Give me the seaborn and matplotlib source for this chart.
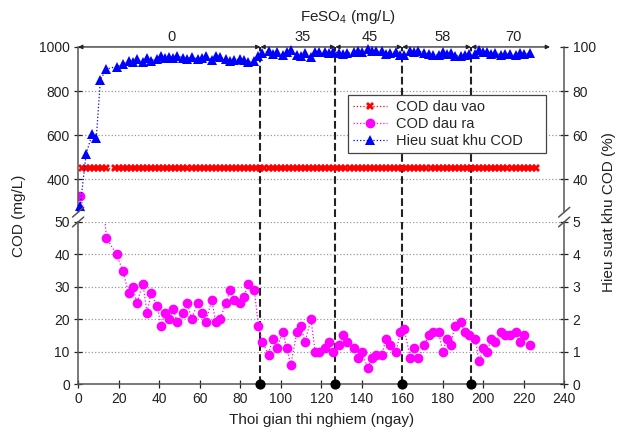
import numpy as np
import pandas as pd
import seaborn as sns
import matplotlib.pyplot as plt
from matplotlib.lines import Line2D

# effluent COD and removal efficiency
days_out = [1, 4, 7, 9, 11, 14, 19, 22, 25, 27, 29, 32, 34, 36, 39, 41, 43, 45, 47, 49,
            52, 54, 56, 59, 61, 63, 66, 68, 70, 73, 75, 77, 80, 82, 84, 87, 89, 91, 94, 96,
            98, 101, 103, 105, 108, 110, 112, 115, 117, 119, 122, 124, 126, 129, 131, 133, 136, 138, 140, 143,
            145, 147, 150, 152, 154, 157, 159, 161, 164, 166, 168, 171, 173, 175, 178, 180, 182, 184, 186, 189,
            191, 193, 196, 198, 200, 202, 204, 206, 209, 211, 213, 216, 218, 220, 223]
cod_out = [325, 216, 176, 185, 67, 45, 40, 35, 28, 30, 25, 31, 22, 28, 24, 18, 22, 20, 23, 19,
           22, 25, 20, 25, 22, 19, 26, 19, 20, 25, 29, 26, 25, 27, 31, 29, 18, 13, 9, 14,
           11, 16, 11, 6, 16, 18, 13, 20, 10, 10, 11, 13, 10, 12, 15, 13, 11, 8, 10, 5,
           8, 9, 9, 14, 12, 10, 16, 17, 8, 11, 8, 12, 15, 16, 16, 10, 14, 12, 18, 19,
           16, 15, 14, 7, 11, 10, 14, 13, 16, 15, 15, 16, 13, 15, 12]
efficiency = [27.6, 51.6, 60.7, 58.9, 85.2, 90.0, 91.1, 92.2, 93.8, 93.3,
              94.4, 93.1, 95.1, 93.8, 94.7, 96.0, 95.1, 95.6, 94.9, 95.8,
              95.1, 94.4, 95.6, 94.4, 95.1, 95.8, 94.2, 95.8, 95.6, 94.4,
              93.6, 94.2, 94.4, 94.0, 93.1, 93.6, 96.0, 97.1, 98.0, 96.9,
              97.6, 96.4, 97.6, 98.7, 96.4, 96.0, 97.1, 95.6, 97.8, 97.8,
              97.6, 97.1, 97.8, 97.3, 96.7, 97.1, 97.6, 98.2, 97.8, 98.9,
              98.2, 98.0, 98.0, 96.9, 97.3, 97.8, 96.4, 96.2, 98.2, 97.6,
              98.2, 97.3, 96.7, 96.4, 96.4, 97.8, 96.9, 97.3, 96.0, 95.8,
              96.4, 96.7, 96.9, 98.4, 97.6, 97.8, 96.9, 97.1, 96.4, 96.7,
              96.7, 96.4, 97.1, 96.7, 97.3]

# influent COD, sampled every 2 days
days_in = list(range(2, 15, 2)) + list(range(18, 227, 2))
cod_in = [450] * len(days_in)

# FeSO4 dosing phases
phase_edges = [0, 90, 127, 160, 194, 233]
phase_dose = ['0', '35', '45', '58', '70']
phase_text_x = [46, 111, 144, 180, 215]
phase_changes = [90, 127, 160, 194]

sns.set_style('ticks')
plt.rcParams['font.family'] = ['Liberation Sans', 'DejaVu Sans']
plt.rcParams['mathtext.fontset'] = 'custom'
plt.rcParams['mathtext.rm'] = 'Liberation Sans'

df_out = pd.DataFrame({'day': days_out, 'cod': cod_out, 'eff': efficiency})
df_in = pd.DataFrame({'day': days_in, 'cod': cod_in})

fig = plt.figure(figsize=(6.2, 4.43), dpi=100)
ax_top = fig.add_axes([0.126, 0.521, 0.784, 0.373])
ax_bot = fig.add_axes([0.126, 0.133, 0.784, 0.366])
ax_top_r = ax_top.twinx()
ax_bot_r = ax_bot.twinx()

red, mag, blue = '#ff0000', '#ff00ff', '#0000ff'
line_kw = dict(linestyle=':', linewidth=0.9, estimator=None, legend=False)

for ax in (ax_top, ax_bot):
    sns.lineplot(data=df_in, x='day', y='cod', ax=ax, color=red, marker='X',
                 markersize=6, markeredgewidth=0, **line_kw)
    sns.lineplot(data=df_out, x='day', y='cod', ax=ax, color=mag, marker='o',
                 markersize=7, markeredgewidth=0, **line_kw)
sns.lineplot(data=df_out, x='day', y='eff', ax=ax_top_r, color=blue, marker='^',
             markersize=7, markeredgewidth=0, clip_on=False, **line_kw)

ax_top.set_ylim(250, 1000)
ax_top_r.set_ylim(25, 100)
ax_bot.set_ylim(0, 50)
ax_bot_r.set_ylim(0, 5)
for ax in (ax_top, ax_bot, ax_top_r, ax_bot_r):
    ax.set_xlim(0, 240)
    ax.set_xlabel('')
    ax.set_ylabel('')

ax_top.set_yticks([400, 600, 800, 1000])
ax_top_r.set_yticks([40, 60, 80, 100])
ax_bot.set_yticks([0, 10, 20, 30, 40, 50])
ax_bot_r.set_yticks([0, 1, 2, 3, 4, 5])
ax_bot.set_xticks(range(0, 241, 20))

for ax in (ax_top, ax_top_r):
    ax.tick_params(axis='x', bottom=False, labelbottom=False, top=False)
for ax in (ax_top, ax_bot, ax_top_r, ax_bot_r):
    ax.tick_params(axis='both', direction='inout', length=6, width=0.9,
                   labelsize=10, colors='#222222', pad=3)
    for s in ax.spines.values():
        s.set_color('#555555')
        s.set_linewidth(1.1)

ax_top.spines[['top', 'bottom', 'right']].set_visible(False)
ax_top_r.spines[['top', 'bottom', 'left']].set_visible(False)
ax_bot.spines[['top', 'right']].set_visible(False)
ax_bot_r.spines[['top', 'left', 'bottom']].set_visible(False)

# dotted horizontal grid
for y in [400, 600, 800]:
    ax_top.axhline(y, color='#9a9a9a', linestyle=':', linewidth=0.9, zorder=0)
for y in [10, 20, 30, 40, 50]:
    ax_bot.axhline(y, color='#9a9a9a', linestyle=':', linewidth=0.9, zorder=0)

# phase boundaries
for x in phase_changes:
    ax_top.axvline(x, ymin=-0.03, ymax=1, color='#222222', linestyle='--',
                   linewidth=1.5, clip_on=False, zorder=1)
    ax_bot.axvline(x, color='#222222', linestyle='--', linewidth=1.5, zorder=1)
ax_bot.scatter(phase_changes, [0] * len(phase_changes), s=40, color='black',
               zorder=5, clip_on=False)

# FeSO4 arrows and doses
for a, b in zip(phase_edges[:-1], phase_edges[1:]):
    ax_top.annotate('', xy=(b, 1000), xytext=(a, 1000), annotation_clip=False,
                    arrowprops=dict(arrowstyle='<|-|>', color='#222222', lw=0.9,
                                    mutation_scale=6, shrinkA=0, shrinkB=0))
for x, t in zip(phase_text_x, phase_dose):
    ax_top.annotate(t, xy=(x, 1000), xytext=(0, 2), textcoords='offset points',
                    ha='center', va='bottom', fontsize=10.5, color='#222222',
                    annotation_clip=False)
fig.text(0.561, 0.962, r'FeSO$_\mathregular{4}$ (mg/L)', ha='center', va='center',
         fontsize=11, color='#222222')

# axis break marks
for xf in (0.126, 0.910):
    for yf in (0.521, 0.499):
        fig.add_artist(Line2D([xf - 0.009, xf + 0.009], [yf - 0.011, yf + 0.011],
                              transform=fig.transFigure, color='#555555', lw=1.1))

fig.text(0.030, 0.512, 'COD (mg/L)', rotation=90, ha='center', va='center',
         fontsize=11, color='#222222')
fig.text(0.983, 0.521, 'Hieu suat khu COD (%)', rotation=90, ha='center', va='center',
         fontsize=11, color='#222222')
fig.text(0.518, 0.052, 'Thoi gian thi nghiem (ngay)', ha='center', va='center',
         fontsize=11, color='#222222')

handles = [
    Line2D([], [], color=red, linestyle=':', marker='X', markersize=6, markeredgewidth=0, lw=0.9),
    Line2D([], [], color=mag, linestyle=':', marker='o', markersize=7, markeredgewidth=0, lw=0.9),
    Line2D([], [], color=blue, linestyle=':', marker='^', markersize=7, markeredgewidth=0, lw=0.9),
]
leg = ax_top_r.legend(handles, ['COD dau vao', 'COD dau ra', 'Hieu suat khu COD'],
                      loc='upper left', bbox_to_anchor=(0.556, 0.35, 0.407, 0.359),
                      mode='expand', borderaxespad=0, fontsize=10.5,
                      frameon=True, fancybox=False, framealpha=1, edgecolor='#444444',
                      handlelength=2.3, handletextpad=0.6, borderpad=0.35,
                      labelspacing=0.2)
leg.get_frame().set_linewidth(0.9)

fig.savefig('out.png', dpi=100)
